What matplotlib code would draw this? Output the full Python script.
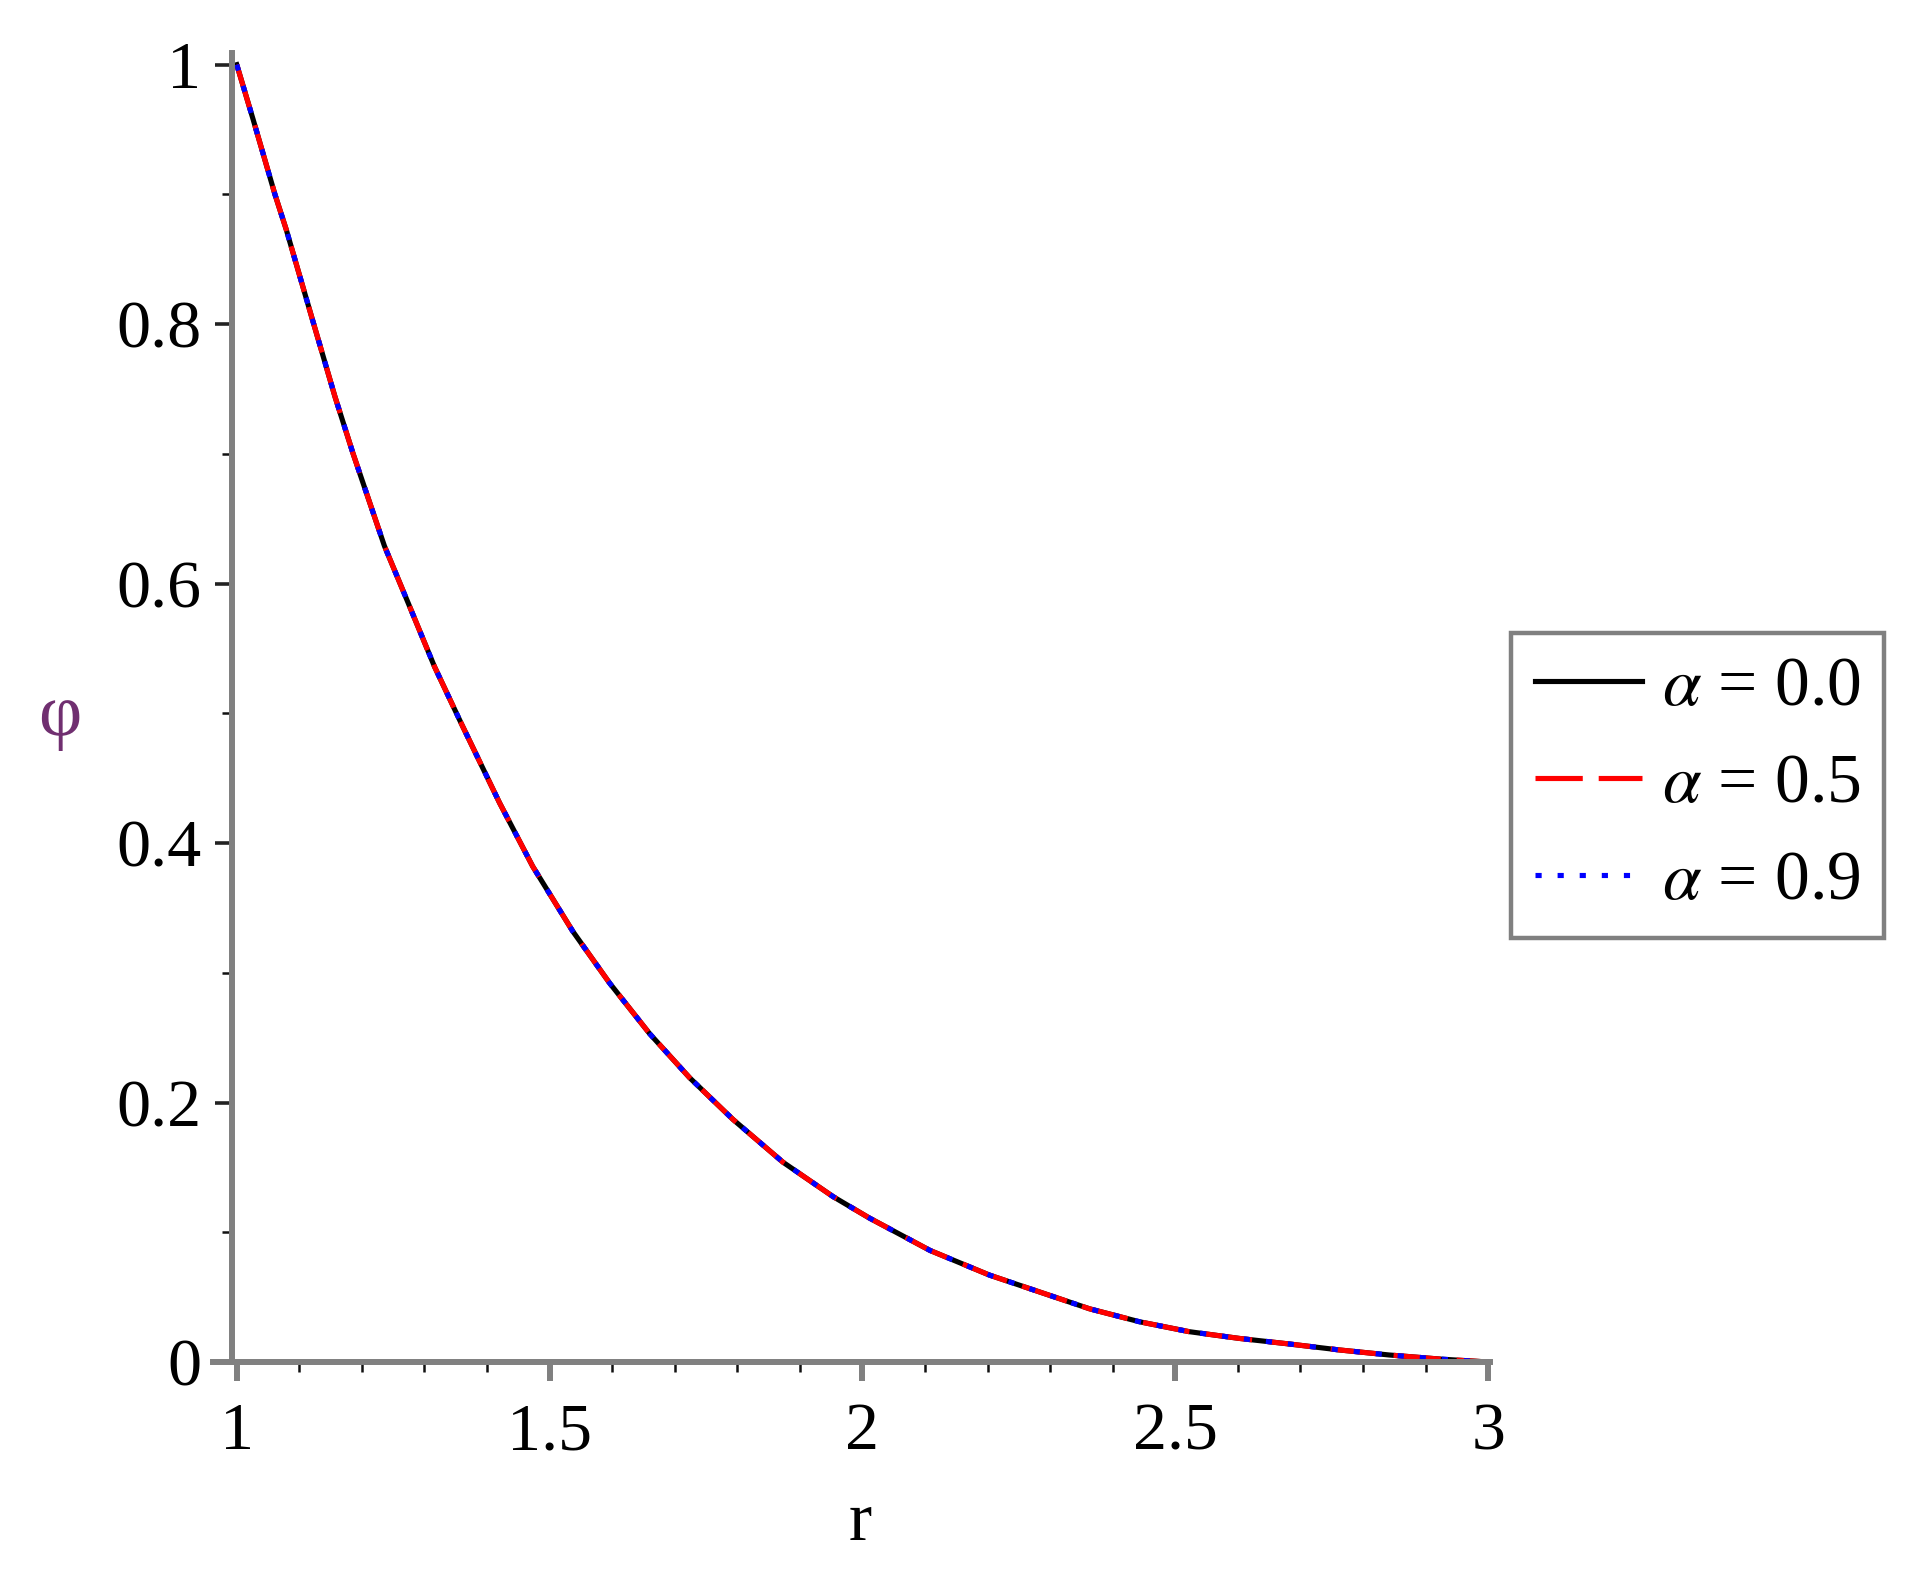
import numpy as np
import matplotlib
matplotlib.use('Agg')
import matplotlib.pyplot as plt
from matplotlib.ticker import MultipleLocator

# values (the three curves coincide)
r = [1.0, 1.026, 1.061, 1.079, 1.12, 1.157, 1.186, 1.236, 1.274, 1.316,
     1.359, 1.420, 1.473, 1.537, 1.596, 1.660, 1.724, 1.793, 1.873, 1.953,
     2.011, 2.108, 2.203, 2.283, 2.363, 2.443, 2.522, 2.602, 2.682, 2.762,
     2.842, 2.922, 3.0]
phi_a00 = [1.0, 0.958, 0.90, 0.873, 0.805, 0.744, 0.70, 0.629, 0.585, 0.536,
           0.492, 0.431, 0.382, 0.332, 0.292, 0.253, 0.219, 0.187, 0.154, 0.1275,
           0.111, 0.086, 0.067, 0.054, 0.041, 0.031, 0.0234, 0.0182, 0.0139, 0.0093,
           0.0054, 0.0023, 0.0]
phi_a05 = list(phi_a00)
phi_a09 = list(phi_a00)
labels = [r'$\alpha$ = 0.0', r'$\alpha$ = 0.5', r'$\alpha$ = 0.9']
xticks = [1, 1.5, 2, 2.5, 3]
xticklabels = ['1', '1.5', '2', '2.5', '3']
yticks = [0, 0.2, 0.4, 0.6, 0.8, 1]
yticklabels = ['0', '0.2', '0.4', '0.6', '0.8', '1']

plt.rcParams['font.family'] = ['Liberation Serif', 'DejaVu Serif']
plt.rcParams['mathtext.fontset'] = 'stix'

W, H = 1921, 1575
fig = plt.figure(figsize=(W / 100, H / 100), dpi=100)
ax = fig.add_axes([213 / W, 1 - 1362 / H, 1277 / W, 1309 / H])

lw = 3.7
ax.plot(r, phi_a00, color='black', lw=lw, label=labels[0])
ax.plot(r, phi_a05, color='red', lw=lw, dashes=(9.2, 3.1), label=labels[1])
ax.plot(r, phi_a09, color='blue', lw=lw, dashes=(1.2, 3.1), label=labels[2])

ax.set_xlim(0.962, 3.003)
ax.set_ylim(0, 1.009)

for s in ['top', 'right']:
    ax.spines[s].set_visible(False)
ax.spines['left'].set_position(('data', 0.992))
for s in ['left', 'bottom']:
    ax.spines[s].set_color('#808080')
    ax.spines[s].set_linewidth(4.3)

ax.set_xticks(xticks)
ax.set_xticklabels(xticklabels)
ax.set_yticks(yticks)
ax.set_yticklabels(yticklabels)
ax.xaxis.set_minor_locator(MultipleLocator(0.1))
ax.yaxis.set_minor_locator(MultipleLocator(0.1))

ax.tick_params(axis='x', which='major', length=14, width=4.3, color='#808080',
               labelsize=49, pad=15)
ax.tick_params(axis='y', which='major', length=12, width=2.6, color='#222222',
               labelsize=49, pad=10)
ax.tick_params(which='minor', length=7, width=1.8, color='#111111')

fig.text(860 / W, 1 - 1523 / H, 'r', fontsize=50, ha='center', va='center')
fig.text(60 / W, 1 - 717 / H, '\u03c6', fontsize=54, ha='center', va='center',
         color='#702F70')

leg = fig.legend(loc='upper left', bbox_to_anchor=(1511 / W, 1 - 633 / H),
                 bbox_transform=fig.transFigure, borderaxespad=0,
                 fontsize=50, fancybox=False, framealpha=1,
                 handlelength=1.55, handletextpad=0.28, borderpad=0.34,
                 labelspacing=0.48)
leg.get_frame().set_edgecolor('#808080')
leg.get_frame().set_linewidth(3.2)

fig.savefig('out.png', dpi=100)
